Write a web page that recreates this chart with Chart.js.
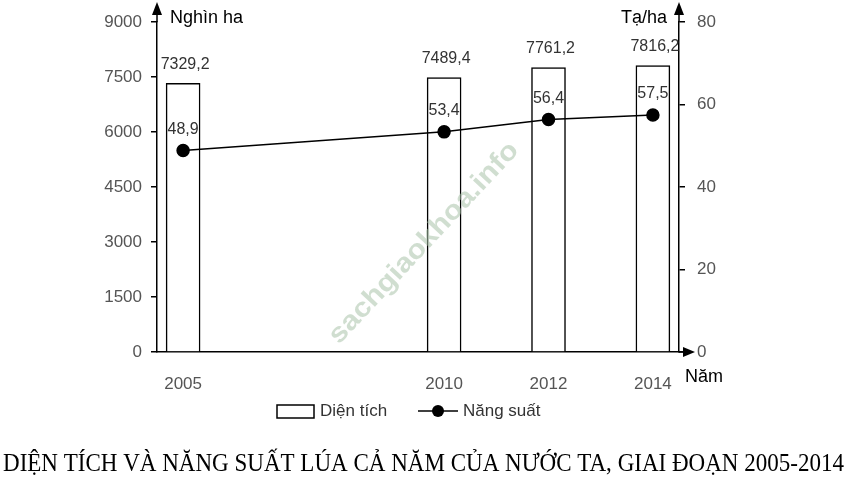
<!DOCTYPE html>
<html>
<head>
<meta charset="utf-8">
<script src="https://cdn.jsdelivr.net/npm/chart.js@4/dist/chart.umd.min.js"></script>
<style>
  html, body { margin: 0; padding: 0; background: #fff; }
</style>
</head>
<body>
<canvas id="myChart" width="846" height="480"></canvas>
<script>
// Du lieu bieu do
const years = [2005, 2010, 2012, 2014];
const dienTich = [7329.2, 7489.4, 7761.2, 7816.2]; // nghin ha
const nangSuat = [48.9, 53.4, 56.4, 57.5]; // ta/ha
const leftTicks = [0, 1500, 3000, 4500, 6000, 7500, 9000];
const rightTicks = [0, 20, 40, 60, 80];
const titleText = 'DIỆN TÍCH VÀ NĂNG SUẤT LÚA CẢ NĂM CỦA NƯỚC TA, GIAI ĐOẠN 2005-2014';

const fmt = v => v.toFixed(1).replace('.', ',');
const tickFont = { size: 17, family: '"Liberation Sans", Arial, sans-serif' };

// Plugin pour les fleches, les etiquettes, la legende et le titre
const decor = {
  id: 'decor',
  afterDraw(chart) {
    const ctx = chart.ctx;
    const a = chart.chartArea;
    ctx.save();
    ctx.strokeStyle = '#000';
    ctx.fillStyle = '#000';
    ctx.lineWidth = 1.5;
    // axes prolonges + fleches
    ctx.beginPath();
    ctx.moveTo(a.left, a.top); ctx.lineTo(a.left, 10);
    ctx.moveTo(a.right, a.top); ctx.lineTo(a.right, 10);
    ctx.moveTo(a.right, a.bottom); ctx.lineTo(688, a.bottom);
    ctx.stroke();
    const tri = (p) => { ctx.beginPath(); ctx.moveTo(p[0], p[1]); ctx.lineTo(p[2], p[3]); ctx.lineTo(p[4], p[5]); ctx.closePath(); ctx.fill(); };
    tri([a.left, 2, a.left - 5, 15, a.left + 5, 15]);
    tri([a.right, 2, a.right - 5, 15, a.right + 5, 15]);
    tri([695, a.bottom, 683, a.bottom - 5, 683, a.bottom + 5]);

    // titres des axes
    ctx.font = '18px "Liberation Sans", Arial, sans-serif';
    ctx.textBaseline = 'middle';
    ctx.textAlign = 'left';
    ctx.fillText('Nghìn ha', 170, 18);
    ctx.textAlign = 'right';
    ctx.fillText('Tạ/ha', 667, 18);
    ctx.textAlign = 'left';
    ctx.fillText('Năm', 685, 377);

    // etiquettes des donnees (0 = ligne, 1 = colonnes)
    ctx.font = '16px "Liberation Sans", Arial, sans-serif';
    ctx.fillStyle = '#333';
    ctx.textAlign = 'center';
    chart.getDatasetMeta(1).data.forEach((bar, i) => {
      ctx.fillText(fmt(dienTich[i]), bar.x + 2, bar.y - 19);
    });
    chart.getDatasetMeta(0).data.forEach((pt, i) => {
      ctx.fillText(fmt(nangSuat[i]), pt.x, pt.y - 21);
    });

    // filigrane
    ctx.save();
    ctx.translate(424, 243);
    ctx.rotate(-47 * Math.PI / 180);
    ctx.font = 'bold 27px "Liberation Sans", Arial, sans-serif';
    ctx.fillStyle = 'rgba(170, 195, 170, 0.55)';
    ctx.textAlign = 'center';
    const ww = ctx.measureText('sachgiaokhoa.info').width;
    ctx.scale(265 / ww, 1);
    ctx.fillText('sachgiaokhoa.info', 0, 0);
    ctx.restore();

    // legende
    ctx.font = '17px "Liberation Sans", Arial, sans-serif';
    ctx.fillStyle = '#333';
    ctx.textAlign = 'left';
    ctx.strokeStyle = '#000';
    ctx.lineWidth = 1.5;
    ctx.strokeRect(277, 405, 37, 13);
    ctx.fillText('Diện tích', 320, 411);
    ctx.beginPath(); ctx.moveTo(418, 411); ctx.lineTo(458, 411); ctx.stroke();
    ctx.fillStyle = '#000';
    ctx.beginPath(); ctx.arc(438, 411, 6, 0, Math.PI * 2); ctx.fill();
    ctx.fillStyle = '#333';
    ctx.fillText('Năng suất', 463, 411);

    // titre du graphique
    ctx.fillStyle = '#000';
    ctx.font = '26px "Liberation Serif", "Times New Roman", serif';
    ctx.textBaseline = 'alphabetic';
    const w = ctx.measureText(titleText).width;
    const sx = 841 / w;
    ctx.translate(3, 0);
    ctx.scale(sx, 1);
    ctx.fillText(titleText, 0, 471);
    ctx.restore();
  }
};

const graph = document.getElementById('myChart');
new Chart(graph, {
  data: {
    datasets: [{
      type: 'line',
      label: 'Năng suất',
      data: years.map((y, i) => ({ x: y, y: nangSuat[i] })),
      yAxisID: 'y1',
      borderColor: '#000',
      backgroundColor: '#000',
      borderWidth: 1.5,
      pointRadius: 6,
      pointBackgroundColor: '#000',
      tension: 0,
      order: 0
    }, {
      type: 'bar',
      label: 'Diện tích',
      data: years.map((y, i) => ({ x: y, y: dienTich[i] })),
      yAxisID: 'y',
      backgroundColor: '#fff',
      borderColor: '#000',
      borderWidth: 1.5,
      barThickness: 34,
      order: 1
    }]
  },
  plugins: [decor],
  options: {
    responsive: false,
    animation: false,
    layout: { padding: { top: 20, left: 0, right: 0, bottom: 0 } },
    plugins: { legend: { display: false }, tooltip: { enabled: false } },
    scales: {
      x: {
        type: 'linear',
        min: 2004.5,
        max: 2014.5,
        offset: false,
        afterBuildTicks: scale => { scale.ticks = years.map(v => ({ value: v })); },
        afterFit: scale => { scale.height = 128; },
        grid: { display: false },
        border: { display: true, color: '#000', width: 1.5 },
        ticks: { color: '#555', font: tickFont, padding: 14, maxRotation: 0, callback: v => String(v) }
      },
      y: {
        position: 'left',
        min: 0,
        max: 9000,
        afterBuildTicks: scale => { scale.ticks = leftTicks.map(v => ({ value: v })); },
        afterFit: scale => { scale.width = 157; },
        grid: { drawOnChartArea: false, drawTicks: true, tickLength: 6, color: '#000', lineWidth: 1.5 },
        border: { display: true, color: '#000', width: 1.5 },
        ticks: { color: '#555', font: tickFont, padding: 9, callback: v => String(v) }
      },
      y1: {
        position: 'right',
        min: 0,
        max: 80,
        afterBuildTicks: scale => { scale.ticks = rightTicks.map(v => ({ value: v })); },
        afterFit: scale => { scale.width = 167; },
        grid: { drawOnChartArea: false, drawTicks: true, tickLength: 6, color: '#000', lineWidth: 1.5 },
        border: { display: true, color: '#000', width: 1.5 },
        ticks: { color: '#555', font: tickFont, padding: 12, callback: v => String(v) }
      }
    }
  }
});
</script>
</body>
</html>
